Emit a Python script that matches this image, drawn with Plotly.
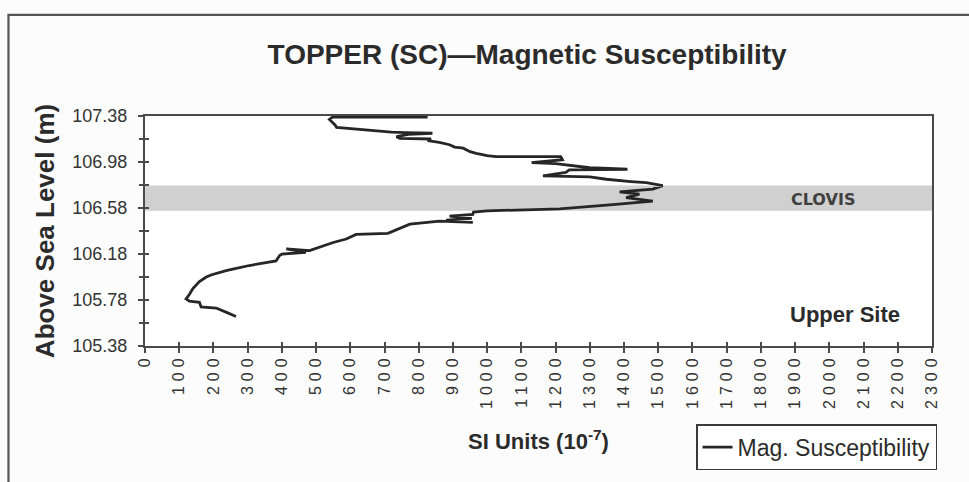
import plotly.graph_objects as go

# Magnetic susceptibility profile, Topper site (upper site)
ELEVATION_M = [
    107.37, 107.37, 107.35, 107.32, 107.30, 107.28, 107.27, 107.26, 107.25, 107.24,
    107.235, 107.23, 107.22, 107.20, 107.185, 107.18, 107.165, 107.15, 107.13, 107.11,
    107.10, 107.07, 107.055, 107.035, 107.026, 107.026, 107.00, 106.975, 106.965, 106.95,
    106.93, 106.917, 106.912, 106.89, 106.86, 106.85, 106.83, 106.81, 106.80, 106.775,
    106.745, 106.72, 106.70, 106.67, 106.64, 106.61, 106.59, 106.573, 106.555, 106.545,
    106.525, 106.51, 106.49, 106.475, 106.455, 106.465, 106.44, 106.40, 106.36, 106.35,
    106.31, 106.28, 106.24, 106.21, 106.225, 106.195, 106.18, 106.165, 106.12, 106.10,
    106.08, 106.05, 106.035, 106.00, 105.98, 105.94, 105.88, 105.83, 105.79, 105.77,
    105.76, 105.72, 105.71, 105.67, 105.636,
]
SUSCEPTIBILITY = [
    826, 548, 539, 550, 556, 560, 598, 640, 690, 720,
    760, 840, 770, 735, 745, 836, 826, 860, 890, 905,
    930, 950, 968, 1000, 1026, 1215, 1220, 1130, 1200, 1240,
    1300, 1410, 1240, 1230, 1163, 1300, 1348, 1420, 1465, 1513,
    1484, 1387, 1445, 1406, 1484, 1367, 1290, 1212, 1000, 960,
    958, 890, 955, 880, 958, 861, 774, 744, 710, 617,
    588, 550, 510, 481, 413, 470, 400, 393, 383, 340,
    305, 260, 237, 195, 179, 159, 140, 130, 120, 130,
    159, 164, 208, 240, 266,
]

# Clovis horizon band (elevation range, m)
CLOVIS_BAND = [106.555, 106.775]

Y_TICKS = [105.38, 105.78, 106.18, 106.58, 106.98, 107.38]
Y_TICK_TEXT = ["105.38", "105.78", "106.18", "106.58", "106.98", "107.38"]
X_TICKS = list(range(0, 2301, 100))
X_TICK_TEXT = [str(v) for v in X_TICKS]

X_RANGE = [0, 2300]
Y_RANGE = [105.38, 107.38]

FONT = "Liberation Sans, Arial, sans-serif"
INK = "#2b2b2b"
AXIS = "#4a4a4a"

fig = go.Figure()

fig.add_trace(go.Scatter(
    x=SUSCEPTIBILITY, y=ELEVATION_M,
    mode="lines",
    name="Mag. Susceptibility",
    line=dict(color="#262626", width=2.8),
))

# invisible trace on the overlay axes so the inside tick marks are drawn
fig.add_trace(go.Scatter(
    x=[X_RANGE[0]], y=[Y_RANGE[0]], xaxis="x2", yaxis="y2",
    mode="markers", marker=dict(opacity=0), showlegend=False, hoverinfo="skip",
))

# Clovis band
fig.add_shape(type="rect", xref="paper", yref="y", x0=0, x1=1,
              y0=CLOVIS_BAND[0], y1=CLOVIS_BAND[1],
              fillcolor="#d0d0d0", line=dict(width=0), layer="below")

# outer chart frame
fig.add_shape(type="rect", xref="paper", yref="paper",
              x0=-0.1735, x1=1.06, y0=-0.62, y1=1.44,
              line=dict(color="#555555", width=2.2), fillcolor="rgba(0,0,0,0)")

fig.add_annotation(text="<b>CLOVIS</b>", x=0.861, y=(CLOVIS_BAND[0] + CLOVIS_BAND[1]) / 2 - 0.012,
                   xref="paper", yref="y", xanchor="center", yanchor="middle", showarrow=False,
                   font=dict(family="DejaVu Sans, sans-serif", size=16, color="#404040"))
fig.add_annotation(text="<b>Upper Site</b>", x=0.89, y=0.138, xref="paper", yref="paper",
                   xanchor="center", yanchor="middle", showarrow=False,
                   font=dict(family=FONT, size=22, color=INK))

fig.update_layout(
    width=969, height=482,
    margin=dict(l=145, r=37, t=116, b=134),
    paper_bgcolor="#fcfcfc",
    plot_bgcolor="#ffffff",
    font=dict(family=FONT, color=INK),
    title=dict(
        text="<b>TOPPER (SC)\u2014Magnetic Susceptibility</b>",
        x=0.544, xref="container", xanchor="center",
        y=0.888, yref="container", yanchor="middle",
        font=dict(family=FONT, size=28, color=INK),
    ),
    showlegend=True,
    legend=dict(
        x=1.0064, y=-0.34, xanchor="right", yanchor="top",
        bgcolor="#ffffff", bordercolor="#3a3a3a", borderwidth=1.5,
        font=dict(family=FONT, size=23, color=INK),
        itemwidth=30,
    ),
    xaxis=dict(
        range=X_RANGE, tickvals=X_TICKS, ticktext=X_TICK_TEXT,
        tickangle=-90, ticks="outside", ticklen=5, tickwidth=1.5, tickcolor=AXIS,
        showline=True, linecolor=AXIS, linewidth=2, mirror=True,
        showgrid=False, zeroline=False,
        tickfont=dict(family=FONT, size=16, color="#333333"),
        ticklabelstandoff=-6,
        title=dict(text="<b>SI Units (10<sup>-7</sup>)</b>", standoff=46,
                   font=dict(family=FONT, size=22, color=INK)),
    ),
    yaxis=dict(
        range=Y_RANGE, tickvals=Y_TICKS, ticktext=Y_TICK_TEXT,
        ticks="outside", ticklen=5, tickwidth=1.5, tickcolor=AXIS,
        minor=dict(tick0=105.38, dtick=0.2, ticks="outside", ticklen=4,
                   tickwidth=1.5, tickcolor=AXIS, showgrid=False),
        showline=True, linecolor=AXIS, linewidth=2, mirror=True,
        showgrid=False, zeroline=False,
        tickfont=dict(family=FONT, size=18, color="#333333"),
        ticklabelstandoff=7,
        title=dict(text="<b>Above Sea Level (m)</b>", standoff=10,
                   font=dict(family=FONT, size=26, color=INK)),
    ),
    xaxis2=dict(
        overlaying="x", range=X_RANGE, tickvals=X_TICKS, showticklabels=False,
        ticks="inside", ticklen=4, tickwidth=1.5, tickcolor=AXIS,
        showline=False, showgrid=False, zeroline=False,
    ),
    yaxis2=dict(
        overlaying="y", range=Y_RANGE, tickvals=Y_TICKS, showticklabels=False,
        ticks="inside", ticklen=4, tickwidth=1.5, tickcolor=AXIS,
        minor=dict(tick0=105.38, dtick=0.2, ticks="inside", ticklen=4,
                   tickwidth=1.5, tickcolor=AXIS),
        showline=False, showgrid=False, zeroline=False,
    ),
)

# widen the spacing of the rotated x tick digits
spacing_js = (
    "document.querySelectorAll('.xtick text').forEach(function(t){"
    "t.style.letterSpacing='5px';});"
)

fig.write_html("out.html", post_script=spacing_js)
